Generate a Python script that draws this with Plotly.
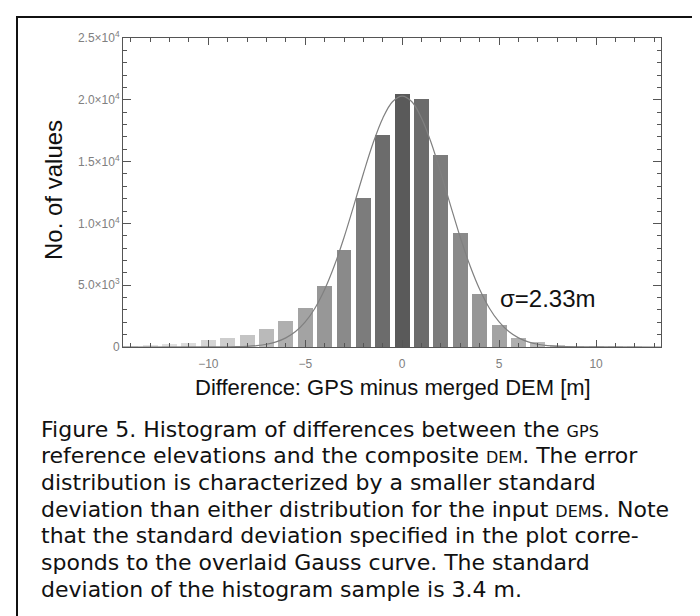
import plotly.graph_objects as go

# ---------------- data ----------------
bin_centers = [-14, -13, -12, -11, -10, -9, -8, -7, -6, -5, -4, -3, -2, -1,
               0, 1, 2, 3, 4, 5, 6, 7, 8, 9, 10, 11, 12, 13]
counts = [30, 90, 210, 350, 540, 700, 975, 1440, 2140, 3150, 4950, 7880, 12070, 17190,
          20450, 20050, 15530, 9230, 4280, 1760, 730, 380, 170, 80, 40, 20, 10, 0]

# Gauss curve (sigma = 2.33 m)
gauss_x = [-14.4, -10, -9, -8.5, -8, -7.5, -7, -6.5, -6, -5.5, -5, -4.5, -4, -3.5, -3,
           -2.5, -2, -1.5, -1, -0.5, 0, 0.5, 1, 1.5, 2, 2.5, 3, 3.5, 4, 4.5, 5,
           5.5, 6, 6.5, 7, 7.5, 8, 8.5, 9, 10, 13.35]
gauss_y = [0, 3, 12, 26, 56, 114, 223, 414, 737, 1250, 2030, 3140, 4650, 6570, 8860,
           11420, 14040, 16500, 18510, 19840, 20300, 19840, 18510, 16500, 14040, 11420, 8860,
           6570, 4650, 3140, 2030, 1250, 737, 414, 223, 114, 56, 26, 12, 3, 0]

y_tickvals = [0, 5000, 10000, 15000, 20000, 25000]
y_ticktext = ["0", "5.0×10<sup>3</sup>", "1.0×10<sup>4</sup>", "1.5×10<sup>4</sup>",
              "2.0×10<sup>4</sup>", "2.5×10<sup>4</sup>"]
x_tickvals = [-10, -5, 0, 5, 10]
x_ticktext = ["\u221210", "\u22125", "0", "5", "10"]

x_title = "Difference: GPS minus merged DEM [m]"
y_title = "No. of values"
sigma_label = "\u03c3=2.33m"
SC = '<span style="font-size:16px">'
caption_lines = [
    "Figure 5. Histogram of differences between the " + SC + "GPS</span>",
    "reference elevations and the composite " + SC + "DEM</span>. The error",
    "distribution is characterized by a smaller standard",
    "deviation than either distribution for the input " + SC + "DEM</span>s. Note",
    "that the standard deviation specified in the plot corre-",
    "sponds to the overlaid Gauss curve. The standard",
    "deviation of the histogram sample is 3.4 m.",
]

# ---------------- style ----------------
W, H = 700, 616
L, R, T, B = 115, 47, 30, 277
PW, PH = W - L - R, H - T - B

def px(x):
    return (x - L) / PW

def py(y):
    return (H - B - y) / PH

gray_by_dist = [90, 108, 124, 138, 151, 163, 175, 186, 196, 205, 213, 220, 225, 228, 230]
bar_colors = []
for c in bin_centers:
    g = gray_by_dist[min(abs(c), len(gray_by_dist) - 1)]
    bar_colors.append(f"rgb({g},{g},{g})")

AX = "#555555"
fig = go.Figure()
fig.add_trace(go.Bar(x=bin_centers, y=counts, width=0.77,
                     marker=dict(color=bar_colors, line=dict(width=0)),
                     showlegend=False))
fig.add_trace(go.Scatter(x=gauss_x, y=gauss_y, mode="lines", line_shape="spline",
                         line=dict(color="#808080", width=1.2), showlegend=False))

fig.update_xaxes(range=[-14.4, 13.35], tickvals=x_tickvals, ticktext=x_ticktext,
                 showline=True, linecolor=AX, linewidth=1, mirror="ticks",
                 ticks="inside", ticklen=7, tickcolor=AX, tickwidth=1,
                 minor=dict(ticks="inside", dtick=1, ticklen=4, tickcolor=AX, showgrid=False),
                 showgrid=False, zeroline=False,
                 tickfont=dict(family="Liberation Sans, Arial", size=12, color="#808080"),
                 ticklabelstandoff=6)
fig.update_yaxes(range=[0, 25000], tickvals=y_tickvals, ticktext=y_ticktext,
                 showline=True, linecolor=AX, linewidth=1, mirror="ticks",
                 ticks="inside", ticklen=8, tickcolor=AX, tickwidth=1,
                 minor=dict(ticks="inside", dtick=1000, ticklen=4, tickcolor=AX, showgrid=False),
                 showgrid=False, zeroline=False,
                 tickfont=dict(family="Liberation Sans, Arial", size=12, color="#808080"))

ann = []
ann.append(dict(x=px(385), y=py(379), xref="paper", yref="paper", text=x_title,
                showarrow=False, xanchor="center", yanchor="middle",
                font=dict(family="Liberation Sans, Arial", size=22, color="#111")))
ann.append(dict(x=px(45), y=py(182), xref="paper", yref="paper", text=y_title,
                showarrow=False, xanchor="center", yanchor="middle", textangle=-90,
                font=dict(family="Liberation Sans, Arial", size=24, color="#111")))
ann.append(dict(x=px(490), y=py(290), xref="paper", yref="paper", text=sigma_label,
                showarrow=False, xanchor="left", yanchor="middle",
                font=dict(family="Liberation Sans, Arial", size=24, color="#111")))
y0, dy = 421, 26.7
for i, line in enumerate(caption_lines):
    ann.append(dict(x=px(31), y=py(y0 + i * dy), xref="paper", yref="paper", text=line,
                    showarrow=False, xanchor="left", yanchor="middle", align="left",
                    font=dict(family="DejaVu Sans", size=22, color="#111")))

fig.add_shape(type="rect", xref="paper", yref="paper",
              x0=px(9), x1=px(694), y0=py(630), y1=py(9),
              line=dict(color="#111", width=2), fillcolor="rgba(0,0,0,0)", layer="above")

fig.update_layout(width=W, height=H, margin=dict(l=L, r=R, t=T, b=B),
                  paper_bgcolor="white", plot_bgcolor="white", annotations=ann,
                  bargap=0)

fig.write_html("out.html")
